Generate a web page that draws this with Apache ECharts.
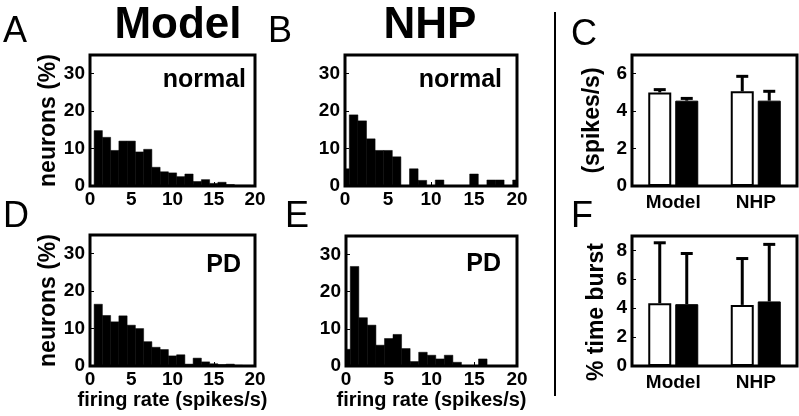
<!DOCTYPE html>
<html><head><meta charset="utf-8">
<script src="https://cdn.jsdelivr.net/npm/echarts@6/dist/echarts.min.js"></script>
<style>html,body{margin:0;padding:0;background:#fff}#c{width:799px;height:416px}</style>
</head><body><div id="c"></div>
<script>
// ---- data ----
const binCenters = [0,1,2,3,4,5,6,7,8,9,10,11,12,13,14,15,16,17,18,19,20];
const modelNormal = [0,14.8,13.0,9.5,12.0,12.0,9.1,9.8,5.0,3.8,3.5,2.5,3.2,1.2,1.7,0.7,1.0,0.4,0.2,0.2,0.1];
const nhpNormal   = [4.6,19.0,17.4,12.6,9.5,9.5,7.8,0,4.6,1.5,0,1.6,0,0,0,3.2,0,1.6,1.6,0,1.6];
const modelPD     = [0,16.5,13.5,11.8,13.4,10.9,10.0,6.5,5.0,4.4,2.7,3.0,0.5,2.1,1.1,0.6,0.4,0.5,0.2,0.1,0];
const nhpPD       = [4.5,26.8,13.0,11.0,5.6,7.4,8.5,4.7,1.2,3.7,2.9,1.9,2.9,1.0,0,0,1.9,0,0,0,0];
const histXTicks = [0,5,10,15,20];
const groups = ['Model','NHP'];
const rateNormal = [5.0, 5.06],  rateNormalTop = [5.15, 5.86];
const ratePD     = [4.56, 4.56], ratePDTop     = [4.68, 5.06];
const burstNormal = [4.35, 4.23], burstNormalTop = [8.53, 7.44];
const burstPD     = [4.28, 4.47], burstPDTop     = [7.79, 8.42];

// ---- helpers ----
const FONT = '"Liberation Sans", Arial, Helvetica, sans-serif';
const lbl = {color:'#000', fontWeight:'bold', fontSize:19, fontFamily:FONT};
const nameStyle = {color:'#000', fontWeight:'bold', fontSize:23, fontFamily:FONT};

function histItem(params, api){
  const c = api.value(0), v = api.value(1);
  if (!v) return null;
  const p0 = api.coord([c-0.5, v]);
  const p1 = api.coord([c+0.5, 0]);
  const cs = params.coordSys;
  const r = echarts.graphic.clipRectByRect(
    {x:p0[0], y:p0[1], width:p1[0]-p0[0], height:p1[1]-p0[1]},
    {x:cs.x, y:cs.y, width:cs.width, height:cs.height});
  return r ? {type:'rect', shape:r, style:{fill:'#000', stroke:'#000', lineWidth:0.5}} : null;
}
function errItem(offset){
  return function(params, api){
    const i = api.value(0);
    const b = api.coord([i, api.value(1)]);
    const t = api.coord([i, api.value(2)]);
    const x = b[0] + offset;
    return {type:'group', children:[
      {type:'line', shape:{x1:x, y1:b[1], x2:x, y2:t[1]}, style:{stroke:'#000', lineWidth:3}},
      {type:'line', shape:{x1:x-6, y1:t[1], x2:x+6, y2:t[1]}, style:{stroke:'#000', lineWidth:3}}
    ]};
  };
}

const grids = [
  {left:90,  top:55,  width:165, height:131}, // A
  {left:345, top:55,  width:172, height:131}, // B
  {left:90,  top:235, width:165, height:131}, // D
  {left:346, top:236, width:171, height:130}, // E
  {left:632, top:55,  width:165, height:131}, // C
  {left:632, top:236, width:165, height:130}  // F
].map(g => Object.assign(g, {show:true, borderColor:'#000', borderWidth:3, backgroundColor:'transparent', z:10, outerBoundsMode:'none'}));

function histX(gi, withName){
  const ax = {type:'value', gridIndex:gi, min:histXTicks[0], max:histXTicks[histXTicks.length-1], interval:5,
    axisLine:{show:false}, splitLine:{show:false},
    axisTick:{show:true, inside:true, length:4, lineStyle:{color:'#000', width:1}},
    axisLabel:Object.assign({margin:4}, lbl)};
  if (withName){ Object.assign(ax, {name:'firing rate (spikes/s)', nameLocation:'middle', nameGap:24,
    nameTextStyle:Object.assign({}, nameStyle, {fontSize:20})}); }
  return ax;
}
function histY(gi, withName){
  const ax = {type:'value', gridIndex:gi, min:0, max:35, interval:10,
    axisLine:{show:false}, splitLine:{show:false},
    axisTick:{show:true, inside:true, length:4, lineStyle:{color:'#000', width:1}},
    axisLabel:Object.assign({margin:5, formatter:v => (v % 10 === 0 ? String(v) : '')}, lbl)};
  if (withName){ Object.assign(ax, {name:'neurons (%)', nameLocation:'middle', nameGap:28, nameTextStyle:nameStyle}); }
  return ax;
}
function catX(gi){
  return {type:'category', gridIndex:gi, data:groups, axisLine:{show:false},
    axisTick:{show:false}, axisLabel:Object.assign({margin:7}, lbl)};
}
function barY(gi, max, name){
  const ax = {type:'value', gridIndex:gi, min:0, max:max, interval:2,
    axisLine:{show:false}, splitLine:{show:false},
    axisTick:{show:true, inside:true, length:4, lineStyle:{color:'#000', width:1}},
    axisLabel:Object.assign({margin:5, formatter:v => (v % 2 === 0 ? String(v) : '')}, lbl)};
  if (name){ Object.assign(ax, {name:name, nameLocation:'middle', nameGap:28, nameTextStyle:nameStyle}); }
  return ax;
}

const histSeries = [modelNormal, nhpNormal, modelPD, nhpPD].map((arr, k) => ({
  type:'custom', xAxisIndex:k, yAxisIndex:k, renderItem:histItem,
  data:arr.map((v, i) => [binCenters[i], v]), z:3
}));

const BW = 23, GAP = 4, OFF = (BW + GAP) / 2;
function barSeries(ai, normal, pd, normalTop, pdTop){
  return [
    {type:'bar', xAxisIndex:ai, yAxisIndex:ai, data:normal, barWidth:BW, barGap:(GAP/BW*100)+'%',
      itemStyle:{color:'#fff', borderColor:'#000', borderWidth:2}, z:2},
    {type:'bar', xAxisIndex:ai, yAxisIndex:ai, data:pd, barWidth:BW,
      itemStyle:{color:'#000', borderColor:'#000', borderWidth:1}, z:2},
    {type:'custom', xAxisIndex:ai, yAxisIndex:ai, renderItem:errItem(-OFF),
      data:normal.map((v, i) => [i, v, normalTop[i]]), z:4},
    {type:'custom', xAxisIndex:ai, yAxisIndex:ai, renderItem:errItem(OFF),
      data:pd.map((v, i) => [i, v, pdTop[i]]), z:4}
  ];
}

function txt(x, y, text, size, weight, align, rot){
  return {type:'text', x:x, y:y, rotation:rot||0, style:{text:text, fill:'#000', font:(weight||'normal')+' '+size+'px '+FONT,
    textAlign:align||'left', textVerticalAlign:'middle'}};
}

const chart = echarts.init(document.getElementById('c'), null, {renderer:'canvas'});
chart.setOption({
  animation:false,
  backgroundColor:'#fff',
  grid:grids,
  xAxis:[histX(0,false), histX(1,false), histX(2,true), histX(3,true), catX(4), catX(5)],
  yAxis:[histY(0,true), histY(1,false), histY(2,true), histY(3,false), barY(4,7,'(spikes/s)'), barY(5,9,null)],
  series:histSeries.concat(barSeries(4, rateNormal, ratePD, rateNormalTop, ratePDTop))
                   .concat(barSeries(5, burstNormal, burstPD, burstNormalTop, burstPDTop)),
  graphic:[
    txt(3, 32, 'A', 36), txt(268, 32, 'B', 36), txt(571, 35, 'C', 36),
    txt(3, 217, 'D', 36), txt(285, 217, 'E', 36), txt(571, 217, 'F', 36),
    txt(178, 26, 'Model', 44, 'bold', 'center'), txt(430, 26, 'NHP', 44, 'bold', 'center'),
    txt(246, 80, 'normal', 25, 'bold', 'right'), txt(502, 80, 'normal', 25, 'bold', 'right'),
    txt(241, 265, 'PD', 25, 'bold', 'right'), txt(501, 264, 'PD', 25, 'bold', 'right'),
    txt(597, 312, '% time burst', 23, 'bold', 'center', Math.PI/2),
    {type:'line', shape:{x1:555, y1:12, x2:555, y2:396}, style:{stroke:'#000', lineWidth:2}}
  ]
});
</script></body></html>
